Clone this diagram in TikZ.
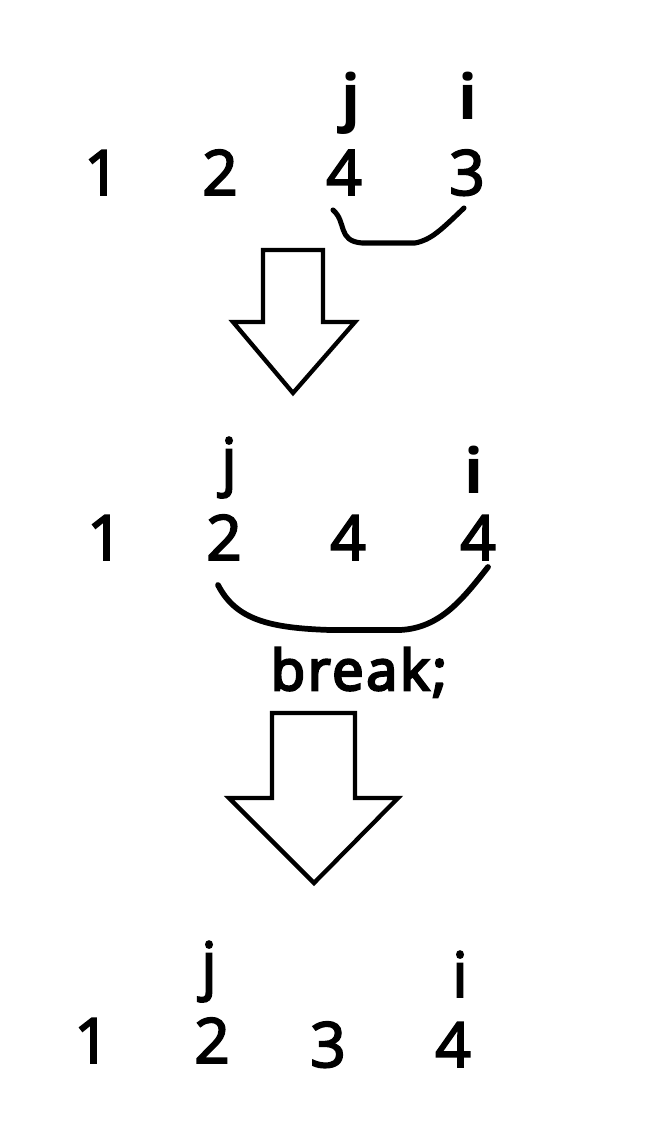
\documentclass[tikz,border=0pt]{standalone}
\usepackage{fontspec}
\setmainfont{Open Sans}
\newfontfamily\digfont[FakeBold=3]{Open Sans}
\newfontfamily\brkfont[FakeBold=4.5,LetterSpace=5]{Open Sans}

\tikzset{
  num/.style={font=\digfont\fontsize{47}{56}\selectfont, anchor=base, inner sep=0pt},
  ptr/.style={font=\digfont\fontsize{47}{56}\selectfont, anchor=base, inner sep=0pt},
  bptr/.style={ptr, font=\fontsize{47}{56}\selectfont\bfseries},
  bracket/.style={line width=3.8bp, line cap=round, line join=round},
  downarrow/.style={line width=3.2bp, line join=miter, fill=white}
}

\begin{document}
\begin{tikzpicture}[x=0.75bp,y=-0.75bp]
	\useasboundingbox (0,0) rectangle (670,1132);
	% first row
	\node[num] (a1) at (102,195) {1};
	\node[num] (a2) at (220,195) {2};
	\node[num] (a3) at (344,195) {4};
	\node[num] (a4) at (467,195) {3};
	\node[bptr] (aj) at (351,120) {j};
	\node[bptr] (ai) at (468,120) {i};
	\draw[bracket] (333,210) .. controls (347,222) and (337,241) .. (362,243) -- (415,243) .. controls (431,240) and (441,230) .. (464,208);
	\draw[downarrow] (263,250) -- (323,250) -- (323,322) -- (355,322) -- (293,393) -- (233,322) -- (263,322) -- cycle;
	% second row
	\node[num] (b1) at (105,560) {1};
	\node[num] (b2) at (224,560) {2};
	\node[num] (b3) at (348,560) {4};
	\node[num] (b4) at (478,560) {4};
	\node[ptr] (bj) at (229,483) {j};
	\node[bptr] (bi) at (474,493) {i};
	\draw[bracket,line width=4.3bp] (218,585) .. controls (236,620) and (270,628) .. (330,630) -- (400,630) .. controls (440,628) and (462,600) .. (488,567);
	\node[num,font=\brkfont\fontsize{42}{50}\selectfont] (brk) at (359,690) {break;};
	\draw[downarrow] (272,713) -- (355,713) -- (355,798) -- (398,798) -- (314,883) -- (229,798) -- (272,798) -- cycle;
	% third row
	\node[num] (c1) at (92,1063) {1};
	\node[num] (c2) at (212,1063) {2};
	\node[num] (c3) at (328,1067) {3};
	\node[num] (c4) at (453,1067) {4};
	\node[ptr] (cj) at (209,987) {j};
	\node[ptr] (ci) at (460,997) {i};
\end{tikzpicture}
\end{document}
